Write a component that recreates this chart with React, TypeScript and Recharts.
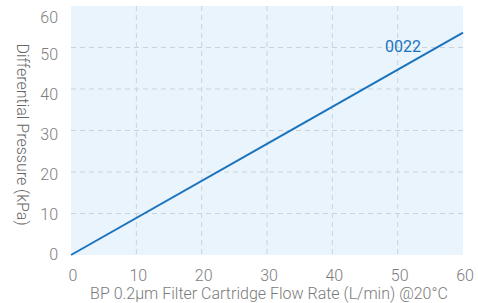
import React from 'react';
import { LineChart, Line, XAxis, YAxis, CartesianGrid, ReferenceDot } from 'recharts';

const flowRates = [0, 30, 60];
const pressures = [0, 26.8, 53.6];
const xTicks = [0, 10, 20, 30, 40, 50, 60];
const yTicks = [0, 10, 20, 30, 40, 50, 60];
const gridValues = [10, 20, 30, 40, 50];
const seriesName = '0022';
const seriesLabelAt = { x: 50.8, y: 50.3 };
const xTitle = 'BP 0.2μm Filter Cartridge Flow Rate (L/min) @20°C';
const yTitle = 'Differential Pressure (kPa)';

const data = flowRates.map((f, i) => ({ flow: f, dp: pressures[i] }));

const FONT = 'Roboto, "Helvetica Neue", Arial, sans-serif';
const TICK_COLOR = '#7d7d7d';
const LINE_COLOR = '#1a73bd';
const PLOT_BOTTOM = 255;

const YTick = (props: any) => {
  const { x, y, payload } = props;
  const ly = PLOT_BOTTOM - 1 - (PLOT_BOTTOM - y) * 0.964;
  return (
    <text x={x} y={ly} dy="0.36em" textAnchor="end" fill={TICK_COLOR} fontFamily={FONT} fontWeight={300} fontSize={16}>
      {payload.value}
    </text>
  );
};

const XTick = (props: any) => {
  const { x, y, payload } = props;
  return (
    <text x={x + 2} y={y} dy="0.36em" textAnchor="middle" fill={TICK_COLOR} fontFamily={FONT} fontWeight={300} fontSize={16}>
      {payload.value}
    </text>
  );
};

const YTitle = (props: any) => {
  const vb = props.viewBox || {};
  const cx = 22.5;
  const cy = (vb.y ?? 6) + (vb.height ?? 249) / 2 + 4;
  return (
    <text x={cx} y={cy} transform={`rotate(90, ${cx}, ${cy})`} textAnchor="middle" dy="0.36em" fill="#666" fontFamily={FONT} fontWeight={300} fontSize={16}>
      {yTitle}
    </text>
  );
};

const XTitle = (props: any) => {
  const vb = props.viewBox || {};
  const cx = (vb.x ?? 71) + (vb.width ?? 392) / 2 + 2;
  const cy = 293;
  return (
    <text x={cx} y={cy} dy="0.36em" textAnchor="middle" fill="#7a7a7a" fontFamily={FONT} fontWeight={300} fontSize={16}>
      {xTitle}
    </text>
  );
};

export default function App() {
  return (
    <div style={{ position: 'absolute', left: 0, top: 0, width: 478, height: 303, background: '#fff' }}>
      <LineChart width={478} height={303} data={data} margin={{ top: 6, right: 15, left: 0, bottom: 0 }}>
        <CartesianGrid
          fill="#eaf4fc"
          stroke="#c9d3dc"
          strokeDasharray="5 4"
          horizontalValues={gridValues}
          verticalValues={gridValues}
        />
        <XAxis
          type="number"
          dataKey="flow"
          domain={[0, 60]}
          ticks={xTicks}
          axisLine={false}
          tickLine={false}
          tickSize={0}
          tickMargin={20}
          height={48}
          tick={<XTick />}
          label={<XTitle />}
        />
        <YAxis
          type="number"
          domain={[0, 60]}
          ticks={yTicks}
          axisLine={false}
          tickLine={false}
          tickSize={0}
          tickMargin={13}
          width={71}
          tick={<YTick />}
          label={<YTitle />}
        />
        <Line type="linear" dataKey="dp" stroke={LINE_COLOR} strokeWidth={2} dot={false} isAnimationActive={false} />
        <ReferenceDot
          x={seriesLabelAt.x}
          y={seriesLabelAt.y}
          r={0}
          fill="none"
          stroke="none"
          label={{ value: seriesName, position: 'center', fill: LINE_COLOR, fontSize: 16, fontFamily: FONT, fontWeight: 400 }}
        />
      </LineChart>
    </div>
  );
}
